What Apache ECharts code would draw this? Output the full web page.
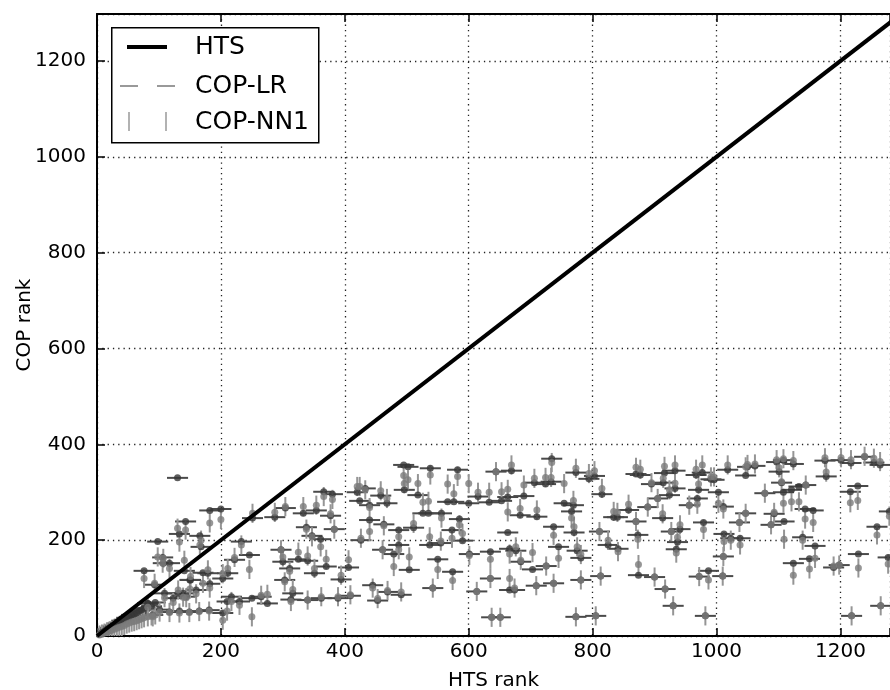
<!DOCTYPE html>
<html>
<head>
<meta charset="utf-8">
<script src="https://cdn.jsdelivr.net/npm/echarts@6/dist/echarts.min.js"></script>
<style>
  html, body { margin: 0; padding: 0; background: #fff; }
  #chart { width: 890px; height: 690px; }
</style>
</head>
<body>
<div id="chart"></div>
<script>
// HTS rank, COP-LR rank, COP-NN1 rank (one entry per compound)
const hts = [
  4, 8, 12, 16, 20, 24, 28, 32, 36, 40, 44, 48, 52, 56, 60, 64, 68, 72, 76, 82, 88, 94,
  130, 182, 200, 143, 98, 133, 166, 106, 76, 141, 151, 171, 93, 109, 139, 182, 117, 150,
  179, 203, 107, 131, 144, 160, 168, 82, 123, 90, 101, 117, 133, 149, 165, 181, 203, 210,
  251, 287, 304, 333, 354, 366, 380, 377, 383, 420, 338, 347, 361, 297, 325, 340, 351, 370,
  300, 311, 303, 316, 394, 406, 340, 217, 230, 250, 265, 275, 313, 362, 389, 409, 211, 222,
  233, 246,
  495, 502, 538, 496, 424, 433, 440, 458, 468, 518, 526, 535, 556, 566, 576, 582, 600, 615,
  440, 426, 463, 487, 487, 511, 537, 555, 573, 590, 585, 479, 504, 550, 574, 445, 453, 491,
  542, 469, 601, 613, 461,
  734, 669, 644, 706, 724, 733, 773, 794, 803, 815, 633, 653, 663, 689, 683, 710, 754, 769,
  766, 663, 737, 770, 745, 775, 781, 666, 676, 703, 684, 635, 666, 674, 709, 737, 725, 635,
  637, 651, 773, 805, 781, 811, 825, 813, 834,
  870, 877, 916, 933, 895, 914, 933, 924, 967, 977, 991, 996, 1018, 1047, 971, 969, 1003, 1011,
  858, 889, 905, 913, 840, 870, 873, 941, 927, 937, 935, 979, 841, 874, 900, 917, 930, 956,
  987, 972, 982, 1012, 1023, 1038, 1010, 1011, 1047, 1037,
  1050, 1062, 1097, 1108, 1124, 1101, 1175, 1201, 1217, 1239, 1254, 1264, 1177, 1105, 1108, 1121,
  1133, 1144, 1078, 1143, 1156, 1109, 1093, 1088, 1216, 1228, 1279, 1259, 1139, 1159, 1150, 1124,
  1189, 1198, 1229, 1218, 1265, 1277
];
const copLR = [
  3, 7, 10, 14, 17, 20, 22, 26, 28, 32, 34, 38, 40, 44, 46, 48, 52, 55, 58, 68, 62, 70,
  330, 262, 265, 239, 197, 213, 209, 164, 136, 136, 117, 132, 107, 89, 89, 109, 152, 117,
  131, 120, 152, 89, 82, 96, 186, 68, 79, 44, 55, 50, 52, 50, 52, 54, 48, 72,
  246, 248, 267, 256, 262, 301, 296, 251, 223, 300, 227, 209, 202, 180, 160, 157, 131, 145,
  155, 141, 117, 89, 118, 143, 75, 82, 72, 79, 82, 68, 76, 79, 79, 84, 131, 159,
  197, 169,
  357, 353, 350, 305, 282, 308, 273, 293, 277, 294, 256, 256, 256, 280, 280, 347, 277, 291,
  242, 200, 233, 221, 190, 226, 190, 194, 221, 199, 244, 171, 138, 160, 134, 106, 74, 86,
  100, 92, 171, 93, 180,
  370, 345, 343, 320, 317, 322, 341, 328, 334, 296, 279, 282, 290, 292, 252, 249, 277, 273,
  260, 216, 228, 216, 186, 178, 163, 182, 178, 139, 155, 176, 96, 96, 105, 110, 146, 120,
  39, 39, 40, 42, 117, 218, 190, 125, 248,
  338, 336, 340, 345, 317, 320, 308, 294, 336, 341, 327, 326, 347, 335, 305, 287, 300, 270,
  263, 269, 287, 246, 248, 239, 211, 223, 218, 196, 181, 237, 182, 127, 123, 98, 63, 273,
  136, 124, 42, 213, 204, 204, 125, 166, 256, 237,
  353, 355, 363, 367, 359, 343, 366, 367, 361, 374, 362, 357, 333, 320, 300, 305,
  312, 315, 298, 265, 262, 239, 255, 232, 301, 313, 260, 228, 206, 188, 161, 152,
  143, 148, 171, 42, 63, 164
];
const copNN1 = [
  2, 4, 6, 8, 10, 12, 14, 16, 18, 20, 22, 25, 27, 29, 30, 32, 34, 36, 38, 40, 42, 44,
  225, 236, 243, 221, 165, 196, 190, 152, 120, 158, 124, 110, 110, 80, 81, 100, 141, 98,
  138, 130, 162, 96, 80, 88, 200, 60, 70, 40, 50, 49, 48, 49, 51, 52, 33, 52,
  256, 258, 270, 270, 273, 291, 285, 255, 223, 312, 223, 207, 186, 180, 175, 167, 141, 160,
  165, 135, 113, 97, 127, 159, 75, 72, 64, 40, 85, 87, 72, 82, 82, 86, 141, 164,
  190, 139,
  335, 326, 336, 318, 312, 305, 268, 303, 287, 318, 279, 281, 246, 317, 297, 333, 318, 300,
  218, 204, 230, 207, 180, 235, 207, 198, 204, 214, 232, 145, 165, 139, 116, 100, 78, 92,
  100, 95, 168, 93, 180,
  362, 357, 343, 329, 331, 331, 350, 339, 345, 308, 300, 301, 306, 315, 266, 263, 318, 283,
  246, 259, 210, 228, 162, 186, 170, 171, 186, 174, 158, 160, 120, 100, 105, 110, 146, 120,
  39, 39, 40, 42, 117, 218, 200, 125, 260,
  352, 348, 354, 357, 320, 329, 319, 305, 348, 357, 332, 332, 357, 353, 317, 275, 277, 265,
  275, 269, 287, 255, 258, 239, 202, 232, 218, 206, 173, 222, 176, 149, 123, 98, 63, 273,
  117, 124, 42, 197, 200, 190, 125, 166, 256, 237,
  358, 359, 368, 370, 366, 351, 372, 372, 368, 375, 371, 364, 342, 322, 277, 280,
  280, 315, 298, 244, 237, 202, 258, 232, 278, 283, 250, 211, 200, 162, 140, 127,
  146, 148, 142, 42, 63, 150
];
const xTicks = [0, 200, 400, 600, 800, 1000, 1200];
const yTicks = [0, 200, 400, 600, 800, 1000, 1200];
const htsLine = [[0, 0], [1300, 1300]];
const lrXErr = 17;   // half width of the COP-LR bars, rank units
const nnYErr = 20;   // half height of the COP-NN1 bars, rank units

const font = "DejaVu Sans";
const chart = echarts.init(document.getElementById("chart"));

const lrPoints = hts.map((x, i) => [x, copLR[i]]);
const nnPoints = hts.map((x, i) => [x, copNN1[i]]);

// bars drawn through the axes with api.coord
function hBar(params, api) {
  const x = api.value(0), y = api.value(1);
  const a = api.coord([x - lrXErr, y]);
  const b = api.coord([x + lrXErr, y]);
  return {
    type: "line",
    shape: { x1: a[0], y1: a[1], x2: b[0], y2: b[1] },
    style: { stroke: "#4a4a4a", lineWidth: 2 }
  };
}
function vBar(params, api) {
  const x = api.value(0), y = api.value(1);
  const a = api.coord([x, y - nnYErr]);
  const b = api.coord([x, y + nnYErr]);
  return {
    type: "line",
    shape: { x1: a[0], y1: a[1], x2: b[0], y2: b[1] },
    style: { stroke: "#959595", lineWidth: 2 }
  };
}

const gridLine = { show: true, lineStyle: { color: "#222", width: 1.3, type: [1.3, 4] } };

const option = {
  animation: false,
  backgroundColor: "#fff",
  grid: { left: 97, right: 0, top: 14, bottom: 54, outerBoundsMode: "none", containLabel: false },
  xAxis: [
    {
      type: "value", min: 0, max: 1280, interval: 200,
      name: "HTS rank", nameLocation: "middle", nameGap: 35,
      nameTextStyle: { fontFamily: font, fontSize: 20, color: "#000" },
      axisLine: { show: true, onZero: false, lineStyle: { color: "#000", width: 2 } },
      axisTick: { show: true, inside: true, length: 8, lineStyle: { color: "#000", width: 1.5 } },
      axisLabel: { fontFamily: font, fontSize: 20, color: "#000", margin: 6,
        formatter: v => xTicks.includes(v) ? String(v) : "" },
      splitLine: gridLine
    },
    {
      type: "value", min: 0, max: 1280, interval: 200, position: "top",
      axisLine: { show: true, onZero: false, lineStyle: { color: "#000", width: 2 } },
      axisTick: { show: true, inside: true, length: 8, lineStyle: { color: "#000", width: 1.5 } },
      axisLabel: { show: false },
      splitLine: { show: false }
    }
  ],
  yAxis: {
    type: "value", min: 0, max: 1298, interval: 200,
    name: "COP rank", nameLocation: "middle", nameGap: 62, nameMoveOverlap: false,
    nameTextStyle: { fontFamily: font, fontSize: 20, color: "#000" },
    axisLine: { show: true, onZero: false, lineStyle: { color: "#000", width: 2 } },
    axisTick: { show: true, inside: true, length: 8, lineStyle: { color: "#000", width: 1.5 } },
    axisLabel: { fontFamily: font, fontSize: 20, color: "#000", margin: 11,
      formatter: v => yTicks.includes(v) ? String(v) : "" },
    splitLine: gridLine
  },
  series: [
    { type: "custom", name: "COP-LR bars", data: lrPoints, renderItem: hBar, clip: true, z: 2 },
    { type: "custom", name: "COP-NN1 bars", data: nnPoints, renderItem: vBar, clip: true, z: 3 },
    { type: "scatter", name: "COP-LR", data: lrPoints, symbolSize: 7, clip: true, z: 4,
      itemStyle: { color: "#363636" } },
    { type: "scatter", name: "COP-NN1", data: nnPoints, symbolSize: 7, clip: true, z: 5,
      itemStyle: { color: "#7c7c7c" } },
    { type: "line", name: "HTS", data: htsLine, symbol: "none", clip: true, z: 6,
      lineStyle: { color: "#000", width: 4 } }
  ],
  graphic: [
    { type: "rect", left: 111, top: 27, z: 100,
      shape: { width: 207, height: 115 },
      style: { fill: "#fff", stroke: "#000", lineWidth: 1.5 } },
    { type: "line", z: 101, shape: { x1: 127, y1: 47, x2: 167, y2: 47 },
      style: { stroke: "#000", lineWidth: 4 } },
    { type: "line", z: 101, shape: { x1: 120, y1: 86, x2: 138, y2: 86 },
      style: { stroke: "#777", lineWidth: 1.5 } },
    { type: "line", z: 101, shape: { x1: 157, y1: 86, x2: 175, y2: 86 },
      style: { stroke: "#777", lineWidth: 1.5 } },
    { type: "line", z: 101, shape: { x1: 129, y1: 112, x2: 129, y2: 131 },
      style: { stroke: "#999", lineWidth: 1.5 } },
    { type: "line", z: 101, shape: { x1: 166, y1: 112, x2: 166, y2: 131 },
      style: { stroke: "#999", lineWidth: 1.5 } },
    { type: "text", z: 101, x: 195, y: 47,
      style: { text: "HTS", fontFamily: font, fontSize: 25, fill: "#000", verticalAlign: "middle" } },
    { type: "text", z: 101, x: 195, y: 86,
      style: { text: "COP-LR", fontFamily: font, fontSize: 25, fill: "#000", verticalAlign: "middle" } },
    { type: "text", z: 101, x: 195, y: 122,
      style: { text: "COP-NN1", fontFamily: font, fontSize: 25, fill: "#000", verticalAlign: "middle" } }
  ]
};

chart.setOption(option);
</script>
</body>
</html>
